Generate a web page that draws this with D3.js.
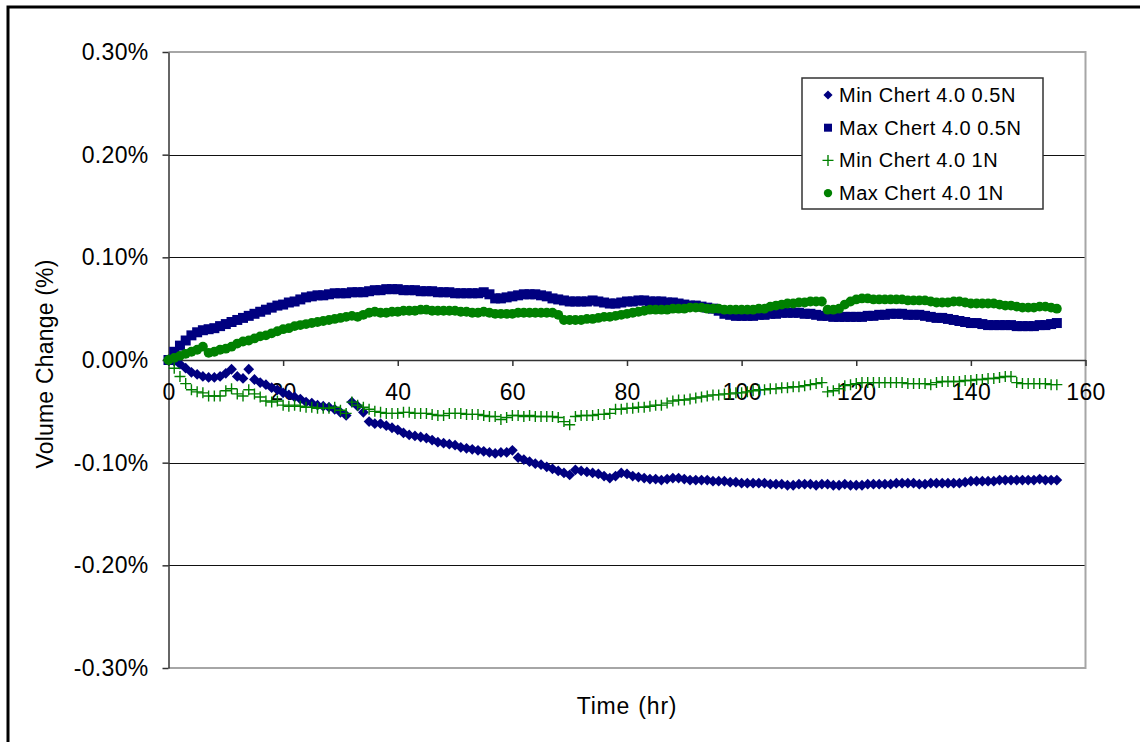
<!DOCTYPE html>
<html>
<head>
<meta charset="utf-8">
<script src="https://cdn.jsdelivr.net/npm/d3@7/dist/d3.min.js"></script>
<style>
  html, body { margin: 0; padding: 0; background: #fff; }
  svg { display: block; }
  text { font-family: "Liberation Sans", Arial, sans-serif; fill: #000; }
</style>
</head>
<body>
<svg id="chart" width="1140" height="742"></svg>
<script>
// ---------------- DATA ----------------
const hours = [
  0,1,2,3,4,5,6,7,8,9,
  10,11,12,13,14,15,16,17,18,19,
  20,21,22,23,24,25,26,27,28,29,
  30,31,32,33,34,35,36,37,38,39,
  40,41,42,43,44,45,46,47,48,49,
  50,51,52,53,54,55,56,57,58,59,
  60,61,62,63,64,65,66,67,68,69,
  70,71,72,73,74,75,76,77,78,79,
  80,81,82,83,84,85,86,87,88,89,
  90,91,92,93,94,95,96,97,98,99,
  100,101,102,103,104,105,106,107,108,109,
  110,111,112,113,114,115,116,117,118,119,
  120,121,122,123,124,125,126,127,128,129,
  130,131,132,133,134,135,136,137,138,139,
  140,141,142,143,144,145,146,147,148,149,
  150,151,152,153,154,155
];

// Min Chert 4.0 0.5N (volume change, %)
const minChert05 = [
  0,-0.001,-0.004,-0.008,-0.012,-0.014,-0.016,-0.017,-0.017,-0.016,
  -0.013,-0.009,-0.016,-0.018,-0.009,-0.019,-0.022,-0.024,-0.027,-0.029,
  -0.032,-0.034,-0.036,-0.038,-0.041,-0.042,-0.044,-0.045,-0.046,-0.048,
  -0.051,-0.054,-0.041,-0.045,-0.051,-0.060,-0.062,-0.062,-0.064,-0.066,
  -0.068,-0.071,-0.073,-0.074,-0.075,-0.076,-0.078,-0.080,-0.081,-0.082,
  -0.083,-0.085,-0.086,-0.087,-0.088,-0.089,-0.090,-0.091,-0.090,-0.090,
  -0.088,-0.095,-0.097,-0.099,-0.101,-0.102,-0.104,-0.106,-0.108,-0.110,
  -0.112,-0.107,-0.108,-0.109,-0.110,-0.111,-0.113,-0.115,-0.113,-0.110,
  -0.111,-0.113,-0.114,-0.115,-0.116,-0.116,-0.117,-0.116,-0.115,-0.115,
  -0.116,-0.117,-0.117,-0.117,-0.117,-0.118,-0.118,-0.118,-0.119,-0.119,
  -0.120,-0.120,-0.120,-0.120,-0.120,-0.121,-0.121,-0.121,-0.122,-0.122,
  -0.121,-0.121,-0.121,-0.122,-0.121,-0.121,-0.122,-0.122,-0.121,-0.122,
  -0.122,-0.122,-0.121,-0.121,-0.121,-0.121,-0.121,-0.120,-0.120,-0.120,
  -0.120,-0.121,-0.121,-0.120,-0.120,-0.120,-0.120,-0.120,-0.120,-0.119,
  -0.118,-0.118,-0.118,-0.118,-0.118,-0.117,-0.117,-0.117,-0.117,-0.117,
  -0.117,-0.117,-0.116,-0.117,-0.117,-0.117
];

// Max Chert 4.0 0.5N
const maxChert05 = [
  0,0.008,0.014,0.019,0.024,0.027,0.029,0.030,0.031,0.033,
  0.035,0.037,0.039,0.041,0.043,0.045,0.047,0.049,0.051,0.053,
  0.054,0.056,0.057,0.059,0.061,0.062,0.063,0.063,0.064,0.065,
  0.065,0.065,0.066,0.066,0.066,0.067,0.068,0.068,0.069,0.069,
  0.069,0.068,0.068,0.068,0.067,0.067,0.067,0.066,0.066,0.066,
  0.065,0.065,0.065,0.065,0.065,0.066,0.064,0.060,0.060,0.061,
  0.062,0.063,0.064,0.064,0.064,0.063,0.062,0.060,0.059,0.058,
  0.057,0.057,0.057,0.057,0.058,0.057,0.056,0.055,0.055,0.056,
  0.057,0.057,0.058,0.058,0.057,0.057,0.057,0.056,0.056,0.055,
  0.054,0.053,0.053,0.052,0.051,0.050,0.048,0.045,0.044,0.043,
  0.043,0.043,0.043,0.044,0.044,0.045,0.045,0.046,0.046,0.046,
  0.046,0.045,0.045,0.044,0.043,0.043,0.042,0.042,0.042,0.042,
  0.042,0.042,0.043,0.043,0.044,0.044,0.045,0.045,0.045,0.044,
  0.044,0.044,0.043,0.042,0.041,0.041,0.040,0.039,0.038,0.037,
  0.036,0.036,0.035,0.034,0.034,0.034,0.034,0.034,0.033,0.033,
  0.033,0.033,0.034,0.034,0.035,0.036
];

// Min Chert 4.0 1N
const minChert1 = [
  0,-0.008,-0.016,-0.023,-0.029,-0.031,-0.032,-0.035,-0.035,-0.035,
  -0.030,-0.028,-0.033,-0.035,-0.029,-0.033,-0.036,-0.040,-0.041,-0.040,
  -0.044,-0.045,-0.044,-0.045,-0.046,-0.046,-0.047,-0.047,-0.047,-0.046,
  -0.049,-0.052,-0.041,-0.044,-0.046,-0.048,-0.050,-0.051,-0.052,-0.052,
  -0.052,-0.051,-0.051,-0.052,-0.052,-0.052,-0.053,-0.054,-0.054,-0.052,
  -0.052,-0.052,-0.053,-0.053,-0.053,-0.054,-0.055,-0.055,-0.058,-0.056,
  -0.054,-0.054,-0.055,-0.054,-0.055,-0.055,-0.055,-0.055,-0.056,-0.060,
  -0.063,-0.055,-0.054,-0.054,-0.054,-0.053,-0.053,-0.052,-0.048,-0.048,
  -0.047,-0.047,-0.046,-0.046,-0.045,-0.044,-0.044,-0.042,-0.040,-0.039,
  -0.039,-0.038,-0.037,-0.036,-0.035,-0.034,-0.034,-0.033,-0.033,-0.032,
  -0.032,-0.031,-0.030,-0.029,-0.029,-0.028,-0.028,-0.027,-0.027,-0.026,
  -0.026,-0.025,-0.024,-0.023,-0.022,-0.031,-0.030,-0.028,-0.025,-0.024,
  -0.023,-0.022,-0.022,-0.022,-0.022,-0.022,-0.022,-0.022,-0.022,-0.023,
  -0.023,-0.023,-0.023,-0.024,-0.022,-0.021,-0.021,-0.021,-0.021,-0.020,
  -0.020,-0.019,-0.019,-0.018,-0.018,-0.017,-0.016,-0.016,-0.022,-0.023,
  -0.023,-0.023,-0.023,-0.023,-0.024,-0.024
];

// Max Chert 4.0 1N
const maxChert1 = [
  0,0.002,0.004,0.006,0.008,0.010,0.013,0.007,0.008,0.010,
  0.011,0.013,0.016,0.018,0.019,0.021,0.023,0.024,0.026,0.028,
  0.030,0.031,0.033,0.034,0.035,0.036,0.037,0.038,0.039,0.040,
  0.041,0.042,0.043,0.042,0.044,0.046,0.047,0.046,0.046,0.047,
  0.047,0.048,0.048,0.048,0.049,0.049,0.048,0.048,0.048,0.048,
  0.048,0.047,0.047,0.046,0.046,0.047,0.046,0.045,0.045,0.045,
  0.045,0.046,0.046,0.046,0.046,0.046,0.046,0.046,0.044,0.039,
  0.039,0.039,0.039,0.040,0.040,0.041,0.042,0.042,0.043,0.044,
  0.045,0.046,0.047,0.048,0.049,0.049,0.049,0.049,0.050,0.050,
  0.050,0.051,0.051,0.051,0.050,0.050,0.050,0.049,0.049,0.049,
  0.049,0.049,0.049,0.050,0.050,0.052,0.053,0.054,0.055,0.055,
  0.056,0.056,0.057,0.057,0.057,0.049,0.049,0.050,0.054,0.057,
  0.059,0.060,0.060,0.059,0.059,0.059,0.059,0.059,0.059,0.058,
  0.058,0.058,0.058,0.057,0.056,0.056,0.056,0.057,0.057,0.056,
  0.055,0.055,0.055,0.055,0.055,0.054,0.053,0.053,0.052,0.051,
  0.051,0.051,0.052,0.052,0.051,0.050
];

const seriesNames = ["Min Chert 4.0 0.5N", "Max Chert 4.0 0.5N", "Min Chert 4.0 1N", "Max Chert 4.0 1N"];
const xTicks = [0, 20, 40, 60, 80, 100, 120, 140, 160];
const yTicks = [-0.3, -0.2, -0.1, 0, 0.1, 0.2, 0.3];
const xTitle = "Time (hr)";
const yTitle = "Volume Change (%)";

// ---------------- CHART ----------------
const navy = "#000080", green = "#008000";
const series = [
  { name: seriesNames[0], values: minChert05, color: navy,  shape: "diamond" },
  { name: seriesNames[1], values: maxChert05, color: navy,  shape: "square" },
  { name: seriesNames[2], values: minChert1,  color: green, shape: "plus" },
  { name: seriesNames[3], values: maxChert1,  color: green, shape: "circle" }
];

const svg = d3.select("#chart");
const pL = 168.5, pR = 1085.5, pT = 52, pB = 668;
const x = d3.scaleLinear().domain([0, 160]).range([pL, pR]);
const y = d3.scaleLinear().domain([-0.3, 0.3]).range([pB, pT]);

// outer frame (left & top edges visible)
svg.append("path")
  .attr("d", `M8,742 L8,7 L1140,7`)
  .attr("fill", "none").attr("stroke", "#000").attr("stroke-width", 3);

// gridlines
svg.append("g").selectAll("line")
  .data(yTicks.filter(d => d !== 0 && Math.abs(d) < 0.3))
  .join("line")
  .attr("x1", pL).attr("x2", pR)
  .attr("y1", d => Math.round(y(d)) + 0.5).attr("y2", d => Math.round(y(d)) + 0.5)
  .attr("stroke", "#111").attr("stroke-width", 1);

// plot border (gray)
svg.append("path")
  .attr("d", `M${pL},${pT} L${pR},${pT} L${pR},${pB} L${pL},${pB}`)
  .attr("fill", "none").attr("stroke", "#a6a6a6").attr("stroke-width", 2);

// y axis
const yAxis = svg.append("g")
  .attr("transform", `translate(${pL},0)`)
  .call(d3.axisLeft(y).tickValues(yTicks).tickSize(6).tickSizeOuter(0).tickPadding(14)
        .tickFormat(d => d.toFixed(2) + "%"));
yAxis.select(".domain").attr("stroke", "#333").attr("stroke-width", 1.5);
yAxis.selectAll(".tick line").attr("stroke", "#333").attr("stroke-width", 1.5);
yAxis.selectAll("text").style("font-size", "23px").style("letter-spacing", "0.3px").attr("fill", "#000");

// x axis at zero
const xAxis = svg.append("g")
  .attr("transform", `translate(0,${y(0)})`)
  .call(d3.axisBottom(x).tickValues(xTicks).tickSize(6).tickSizeOuter(0).tickPadding(18)
        .tickFormat(d3.format("d")));
xAxis.select(".domain").attr("stroke", "#333").attr("stroke-width", 1.5);
xAxis.selectAll(".tick line").attr("stroke", "#333").attr("stroke-width", 1.5);
xAxis.selectAll("text").style("font-size", "23px").style("letter-spacing", "0.3px").attr("fill", "#000");

// marker drawing
function marker(sel, shape, color) {
  if (shape === "diamond") {
    sel.append("path").attr("d", d3.symbol(d3.symbolSquare, 58)())
      .attr("transform", "rotate(45)").attr("fill", color);
  } else if (shape === "square") {
    sel.append("path").attr("d", d3.symbol(d3.symbolSquare, 100)()).attr("fill", color);
  } else if (shape === "circle") {
    sel.append("path").attr("d", d3.symbol(d3.symbolCircle, 76)()).attr("fill", color);
  } else if (shape === "plus") {
    sel.append("path").attr("d", "M-5.5,0H5.5M0,-5.5V5.5")
      .attr("stroke", color).attr("stroke-width", 1.4).attr("fill", "none");
  }
}

// series
series.forEach(s => {
  const g = svg.append("g");
  g.selectAll("g")
    .data(hours.map((h, i) => [h, s.values[i]]))
    .join("g")
    .attr("transform", d => `translate(${x(d[0])},${y(d[1])})`)
    .each(function () { marker(d3.select(this), s.shape, s.color); });
});

// axis titles
svg.append("text")
  .attr("x", (pL + pR) / 2).attr("y", 714)
  .attr("text-anchor", "middle").style("font-size", "23px").style("word-spacing", "1px")
  .style("letter-spacing", "0.8px")
  .text(xTitle);
svg.append("text")
  .attr("transform", `translate(53,364) rotate(-90)`)
  .attr("text-anchor", "middle").style("font-size", "23px").style("letter-spacing", "0.2px")
  .text(yTitle);

// legend
const lg = svg.append("g").attr("transform", "translate(802,78)");
lg.append("rect").attr("x", 0).attr("y", 0).attr("width", 241).attr("height", 131)
  .attr("fill", "#fff").attr("stroke", "#333").attr("stroke-width", 1.5);
const legendSize = { diamond: 0.85, square: 0.8, plus: 1, circle: 0.85 };
series.forEach((s, i) => {
  const row = lg.append("g").attr("transform", `translate(0,${17 + i * 32.7})`);
  const m = row.append("g").attr("transform", `translate(26,0) scale(${legendSize[s.shape]})`);
  marker(m, s.shape, s.color);
  row.append("text").attr("x", 37).attr("y", 0).attr("dy", "0.35em")
    .style("font-size", "20px").style("letter-spacing", "0.5px")
    .text(s.name);
});
</script>
</body>
</html>
